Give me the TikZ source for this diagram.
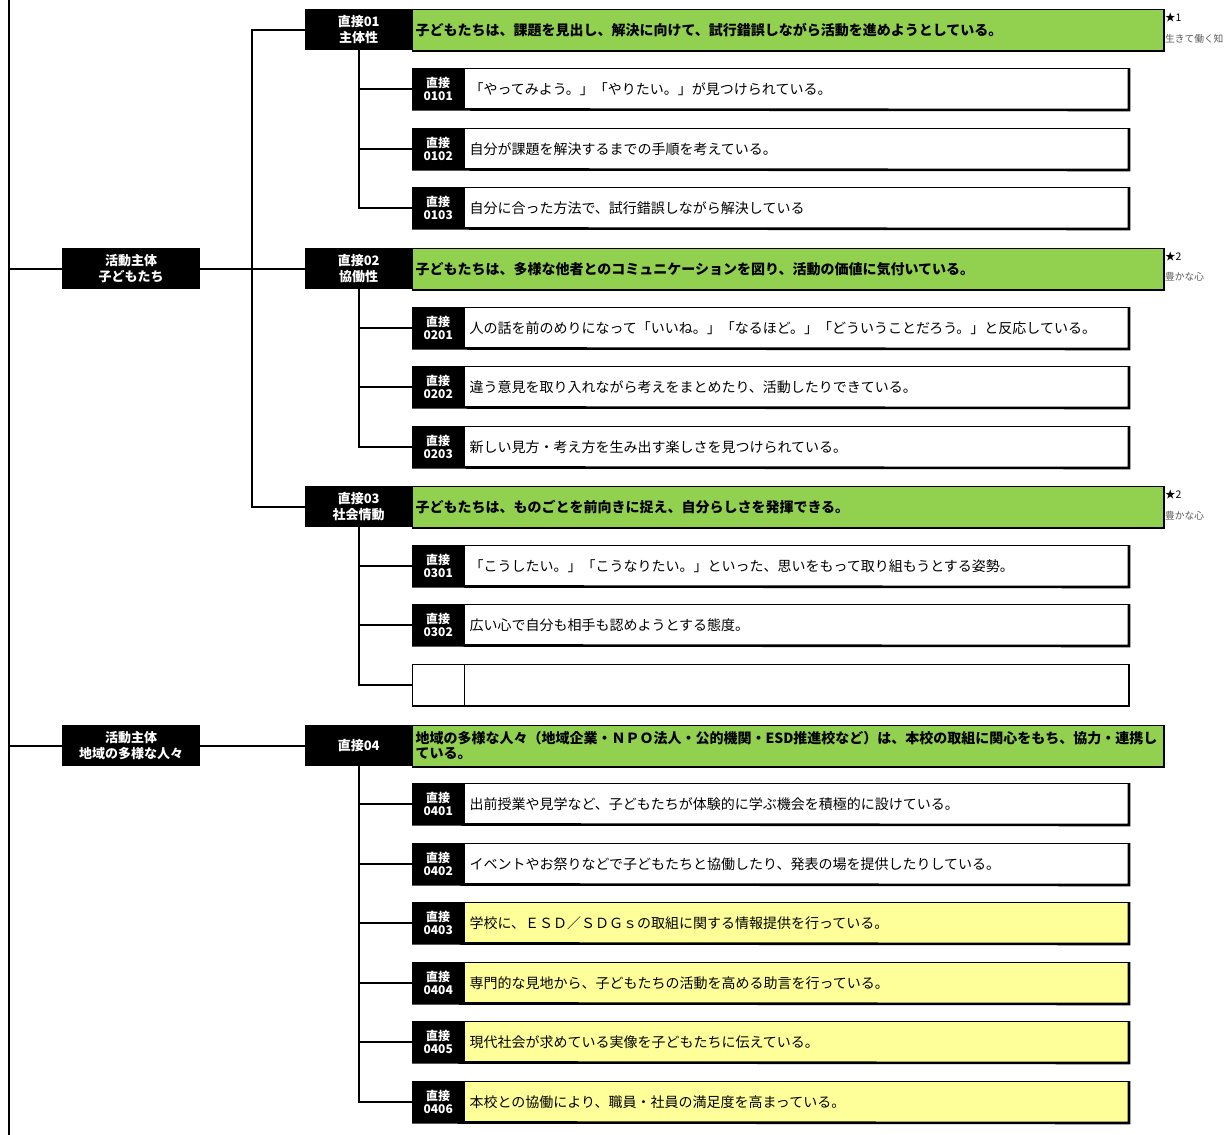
\documentclass[tikz,border=0pt]{standalone}
\usepackage{fontspec}
\setmainfont{Noto Sans CJK JP}
\definecolor{goalgreen}{RGB}{146,208,80}
\definecolor{rowyellow}{RGB}{255,255,153}
\definecolor{notegray}{RGB}{90,90,90}
\begin{document}
\begin{tikzpicture}[x=1pt,y=-1pt,
  conn/.style={draw=black,line width=1.6pt},
  actorbox/.style={fill=black,text=white,anchor=north west,inner sep=0pt,
    minimum width=138,minimum height=41,align=center,
    font=\bfseries\fontsize{13}{15.5}\selectfont},
  aimbox/.style={fill=black,text=white,anchor=north west,inner sep=0pt,
    minimum width=107,minimum height=41,align=center,
    font=\bfseries\fontsize{13}{15.5}\selectfont},
  goalbox/.style={fill=goalgreen,draw=black,line width=1pt,anchor=north west,
    text width=745,inner xsep=3pt,inner ysep=0pt,minimum height=41,align=left,
    font=\bfseries\fontsize{14}{15}\selectfont},
  codebox/.style={fill=black,text=white,anchor=north west,inner sep=0pt,
    minimum width=52,minimum height=41,align=center,
    font=\bfseries\fontsize{12}{13.5}\selectfont},
  rowbox/.style={draw=black,line width=1pt,anchor=north west,
    text width=654,inner xsep=5pt,inner ysep=0pt,minimum height=41,align=left,
    font=\fontsize{14}{16}\selectfont},
  edge/.style={draw=black,line width=2.6pt},
  note/.style={anchor=west,inner sep=0pt,font=\fontsize{10.5}{12}\selectfont},
  subnote/.style={anchor=west,inner sep=0pt,text=notegray,font=\fontsize{9.7}{11}\selectfont}]
\useasboundingbox (0,0) rectangle (1224,1135);
\fill[white] (0,0) rectangle (1224,1135);

% left spine
\coordinate (spineT) at (9,0);
\coordinate (spineB) at (9,1135);
\draw[conn] (spineT) -- (spineB);

% actors
\node[actorbox] (a1) at (62,248) {活動主体\\子どもたち};
\node[actorbox] (a2) at (62,725) {活動主体\\地域の多様な人々};

% aims and goals
\node[aimbox] (b01) at (305,9) {直接01\\主体性};
\node[aimbox] (b02) at (305,248) {直接02\\協働性};
\node[aimbox] (b03) at (305,486) {直接03\\社会情動};
\node[aimbox] (b04) at (305,725) {直接04};

\node[goalbox] (g01) at (412,9) {子どもたちは、課題を見出し、解決に向けて、試行錯誤しながら活動を進めようとしている。};
\node[goalbox] (g02) at (412,248) {子どもたちは、多様な他者とのコミュニケーションを図り、活動の価値に気付いている。};
\node[goalbox] (g03) at (412,486) {子どもたちは、ものごとを前向きに捉え、自分らしさを発揮できる。};
\node[goalbox] (g04) at (412,725) {地域の多様な人々（地域企業・ＮＰＯ法人・公的機関・ESD推進校など）は、本校の取組に関心をもち、協力・連携し\\ている。};
\foreach \g in {g01,g02,g03,g04}
  \draw[edge] (\g.south west) -- (\g.south east) -- (\g.north east);

% star notes
\node[note] (s1) at (1165,18) {★1};
\node[subnote] (t1) at (1165,39) {生きて働く知};
\node[note] (s2) at (1165,257) {★2};
\node[subnote] (t2) at (1165,277) {豊かな心};
\node[note] (s3) at (1165,495) {★2};
\node[subnote] (t3) at (1165,516) {豊かな心};

% connectors between actors and aims
\draw[conn] (spineT |- a1.west) -- (a1.west);
\draw[conn] (spineT |- a2.west) -- (a2.west);
\coordinate (fork) at (252,268.5);
\draw[conn] (a1.east) -- (b02.west);
\draw[conn] (b01.west) -| (fork) |- (b03.west);
\draw[conn] (a2.east) -- (b04.west);

% indicator rows
\foreach \id/\yy/\txt/\col/\up in {
  0101/68/{「やってみよう。」「やりたい。」が見つけられている。}/white/b01,
  0102/128/{自分が課題を解決するまでの手順を考えている。}/white/b01,
  0103/187/{自分に合った方法で、試行錯誤しながら解決している}/white/b01,
  0201/307/{人の話を前のめりになって「いいね。」「なるほど。」「どういうことだろう。」と反応している。}/white/b02,
  0202/366/{違う意見を取り入れながら考えをまとめたり、活動したりできている。}/white/b02,
  0203/426/{新しい見方・考え方を生み出す楽しさを見つけられている。}/white/b02,
  0301/545/{「こうしたい。」「こうなりたい。」といった、思いをもって取り組もうとする姿勢。}/white/b03,
  0302/604/{広い心で自分も相手も認めようとする態度。}/white/b03,
  0401/783/{出前授業や見学など、子どもたちが体験的に学ぶ機会を積極的に設けている。}/white/b04,
  0402/843/{イベントやお祭りなどで子どもたちと協働したり、発表の場を提供したりしている。}/white/b04,
  0403/902/{学校に、ＥＳＤ／ＳＤＧｓの取組に関する情報提供を行っている。}/rowyellow/b04,
  0404/962/{専門的な見地から、子どもたちの活動を高める助言を行っている。}/rowyellow/b04,
  0405/1021/{現代社会が求めている実像を子どもたちに伝えている。}/rowyellow/b04,
  0406/1081/{本校との協働により、職員・社員の満足度を高まっている。}/rowyellow/b04}
{
  \node[codebox] (c\id) at (412,\yy) {直接\\\id};
  \node[rowbox,fill=\col] (r\id) at (464,\yy) {\txt};
  \draw[edge] (c\id.south west) -- (r\id.south east) -- (r\id.north east);
  \draw[conn] (\up.south) |- (c\id.west);
}

% empty row under 直接03
\node[draw=black,line width=1pt,fill=white,anchor=north west,inner sep=0pt,
  minimum width=52,minimum height=41] (c0303) at (412,664) {};
\node[rowbox,fill=white] (r0303) at (464,664) {};
\draw[edge] (c0303.south west) -- (r0303.south east) -- (r0303.north east);
\draw[conn] (b03.south) |- (c0303.west);
\end{tikzpicture}
\end{document}
